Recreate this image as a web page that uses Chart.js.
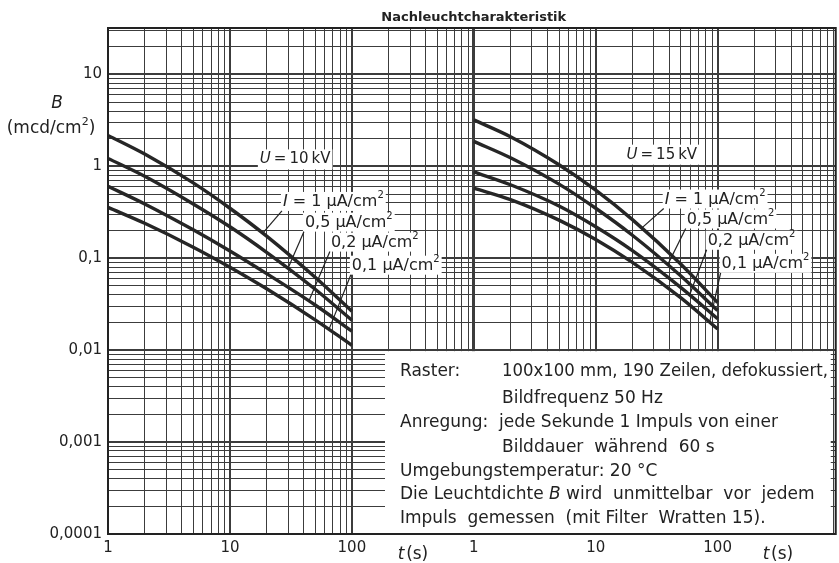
<!DOCTYPE html>
<html>
<head>
<meta charset="utf-8">
<script src="https://cdn.jsdelivr.net/npm/chart.js@4.4.1/dist/chart.umd.min.js"></script>
<style>
  html, body { margin: 0; padding: 0; background: #fff; }
  #wrap { width: 839px; height: 563px; }
</style>
</head>
<body>
<div id="wrap"><canvas id="chart" width="839" height="563"></canvas></div>
<script>
// Zeitpunkte t (s), gleiche Stützstellen für beide Teilbilder
const tSeconds = [1, 2, 5, 10, 20, 50, 100];

// Leuchtdichte B (mcd/cm²) bei U = 10 kV
const b10_1uA  = [2.17, 1.36, 0.66, 0.35, 0.174, 0.062, 0.0265];
const b10_05uA = [1.22, 0.78, 0.39, 0.22, 0.116, 0.046, 0.0212];
const b10_02uA = [0.606, 0.39, 0.204, 0.12, 0.068, 0.031, 0.0161];
const b10_01uA = [0.358, 0.24, 0.132, 0.08, 0.0466, 0.0214, 0.0113];

// Leuchtdichte B (mcd/cm²) bei U = 15 kV
const b15_1uA  = [3.2, 2.1, 1.04, 0.55, 0.263, 0.086, 0.033];
const b15_05uA = [1.87, 1.24, 0.64, 0.35, 0.178, 0.064, 0.027];
const b15_02uA = [0.87, 0.63, 0.37, 0.22, 0.121, 0.048, 0.022];
const b15_01uA = [0.58, 0.435, 0.26, 0.16, 0.09, 0.037, 0.017];

const currentLabels = ['1', '0,5', '0,2', '0,1'];
const xTickLabels = ['1', '10', '100'];
const yTickLabels = ['0,0001', '0,001', '0,01', '0,1', '1', '10'];

// rechtes Teilbild beginnt dort, wo das linke bei t = 1000 s endet
const PANEL_SHIFT = 1000;

const FONT = '"DejaVu Sans", sans-serif';
const INK = '#222';

function series(values, shift) {
    return tSeconds.map((t, i) => ({ x: t * shift, y: values[i] }));
}

function logTicks(min, max) {
    const out = [];
    for (let e = Math.floor(Math.log10(min)); e <= Math.ceil(Math.log10(max)); e++) {
        for (let m = 1; m <= 9; m++) {
            const v = Number((m * Math.pow(10, e)).toPrecision(6));
            if (v >= min * 0.9999 && v <= max * 1.0001) out.push({ value: v });
        }
    }
    return out;
}

function isDecade(v) {
    const lg = Math.log10(v);
    return Math.abs(lg - Math.round(lg)) < 1e-6;
}

// Kurvenwert an beliebigem t (log-log interpoliert), für Hinweislinien
function valueAt(values, t) {
    const lt = Math.log10(t);
    for (let i = 0; i < tSeconds.length - 1; i++) {
        const a = Math.log10(tSeconds[i]), b = Math.log10(tSeconds[i + 1]);
        if (lt >= a && lt <= b) {
            const f = (lt - a) / (b - a);
            return Math.pow(10, Math.log10(values[i]) + f * (Math.log10(values[i + 1]) - Math.log10(values[i])));
        }
    }
    return values[values.length - 1];
}

function setFont(ctx, p, size) {
    const s = p.sup ? Math.round(size * 0.65) : size;
    ctx.font = (p.bold ? 'bold ' : '') + (p.italic ? 'italic ' : '') + s + 'px ' + FONT;
}

function partWidth(ctx, p) {
    const w = ctx.measureText(p.text).width;
    return p.maxWidth ? Math.min(w, p.maxWidth) : w;
}

function measureRich(ctx, parts, size) {
    let w = 0;
    parts.forEach(p => { setFont(ctx, p, size); w += partWidth(ctx, p); });
    return w;
}

function drawRich(ctx, parts, x, y, size) {
    let cx = x;
    ctx.textAlign = 'left';
    ctx.textBaseline = 'middle';
    parts.forEach(p => {
        setFont(ctx, p, size);
        const dy = p.sup ? -size * 0.38 : 0;
        if (p.maxWidth) ctx.fillText(p.text, cx, y + dy, p.maxWidth);
        else ctx.fillText(p.text, cx, y + dy);
        cx += partWidth(ctx, p);
    });
    return cx - x;
}

function currentParts(i) {
    const parts = [];
    if (i === 0) {
        parts.push({ text: 'I', italic: true });
        parts.push({ text: ' = ' });
    }
    parts.push({ text: currentLabels[i] + ' µA/cm' });
    parts.push({ text: '2', sup: true });
    return parts;
}

// Beschriftungen der Kurven: Lage (t, B) der linken Textkante und Zielpunkt der Hinweislinie
const leftPanel = {
    curves: [b10_1uA, b10_05uA, b10_02uA, b10_01uA],
    labelT: [27.2, 41.2, 67.3, 100],
    labelB: [0.41, 0.244, 0.148, 0.083],
    leaderT: [18.6, 29.9, 44.4, 64.9],
    shift: 1
};
const rightPanel = {
    curves: [b15_1uA, b15_05uA, b15_02uA, b15_01uA],
    labelT: [36.8, 55.7, 82.8, 107.8],
    labelB: [0.435, 0.264, 0.155, 0.087],
    leaderT: [23.8, 38.9, 58.9, 86],
    shift: PANEL_SHIFT
};

const caption = [
    { dx: 15, dy: 20, parts: [{ text: 'Raster:' }] },
    { dx: 117, dy: 20, parts: [{ text: '100x100 mm, 190 Zeilen, defokussiert,', maxWidth: 326 }] },
    { dx: 117, dy: 47, parts: [{ text: 'Bildfrequenz 50 Hz' }] },
    { dx: 15, dy: 71, parts: [{ text: 'Anregung:' }] },
    { dx: 114, dy: 71, parts: [{ text: 'jede Sekunde 1 Impuls von einer' }] },
    { dx: 117, dy: 96, parts: [{ text: 'Bilddauer  während  60 s' }] },
    { dx: 15, dy: 120, parts: [{ text: 'Umgebungstemperatur: 20 °C' }] },
    { dx: 15, dy: 143, parts: [{ text: 'Die Leuchtdichte ' }, { text: 'B', italic: true }, { text: ' wird  unmittelbar  vor  jedem' }] },
    { dx: 15, dy: 167, parts: [{ text: 'Impuls  gemessen  (mit Filter  Wratten 15).' }] }
];

const annotations = {
    id: 'annotations',
    afterDatasetsDraw(chart) {
        const ctx = chart.ctx;
        const xs = chart.scales.x, ys = chart.scales.y;
        const area = chart.chartArea;
        ctx.save();
        ctx.fillStyle = INK;
        ctx.strokeStyle = INK;

        // Kurvenbeschriftungen mit Hinweislinien
        [leftPanel, rightPanel].forEach(panel => {
            panel.curves.forEach((values, i) => {
                const parts = currentParts(i);
                const lx = xs.getPixelForValue(panel.labelT[i] * panel.shift);
                const ly = ys.getPixelForValue(panel.labelB[i]);
                const w = measureRich(ctx, parts, 16);
                ctx.fillStyle = '#fff';
                ctx.fillRect(lx - 2, ly - 10, w + 4, 19);
                ctx.fillStyle = INK;
                drawRich(ctx, parts, lx, ly, 16);

                const ex = xs.getPixelForValue(panel.leaderT[i] * panel.shift);
                const ey = ys.getPixelForValue(valueAt(values, panel.leaderT[i]));
                ctx.lineWidth = 1.2;
                ctx.beginPath();
                ctx.moveTo(lx - 1, ly + 9);
                ctx.lineTo(ex, ey);
                ctx.stroke();
            });
        });

        // Spannungsangaben
        const uParts = kv => [{ text: 'U', italic: true }, { text: '\u2009=\u2009' + kv + '\u2009kV' }];
        [[1, 10, 17.6, 1.19], [PANEL_SHIFT, 15, 17.9, 1.34]].forEach(([shift, kv, t, b]) => {
            const parts = uParts(kv);
            const x = xs.getPixelForValue(t * shift);
            const y = ys.getPixelForValue(b);
            const w = measureRich(ctx, parts, 15);
            ctx.fillStyle = '#fff';
            ctx.fillRect(x - 2, y - 10, w + 4, 20);
            ctx.fillStyle = INK;
            drawRich(ctx, parts, x, y, 15);
        });

        // Kasten mit den Messbedingungen
        const box = {
            left: area.left + 277,
            right: area.right - 5,
            top: ys.getPixelForValue(0.01) + 1,
            bottom: area.bottom - 1
        };
        ctx.fillStyle = '#fff';
        ctx.fillRect(box.left, box.top, box.right - box.left, box.bottom - box.top);
        ctx.fillStyle = INK;
        caption.forEach(line => drawRich(ctx, line.parts, box.left + line.dx, box.top + line.dy, 17));

        // Rahmen
        ctx.lineWidth = 2;
        ctx.strokeStyle = '#222';
        ctx.strokeRect(area.left, area.top, area.right - area.left, area.bottom - area.top);
        ctx.restore();
    },
    afterDraw(chart) {
        const ctx = chart.ctx;
        const xs = chart.scales.x;
        const area = chart.chartArea;
        ctx.save();
        ctx.fillStyle = INK;

        // Titel
        ctx.font = 'bold 13px ' + FONT;
        ctx.textAlign = 'center';
        ctx.textBaseline = 'middle';
        ctx.fillText('Nachleuchtcharakteristik', xs.getPixelForValue(PANEL_SHIFT), area.top - 10);

        // Achsentitel y
        ctx.font = 'italic 17px ' + FONT;
        ctx.fillText('B', 57, 104);
        const yt = [{ text: '(mcd/cm' }, { text: '2', sup: true }, { text: ')' }];
        const w = measureRich(ctx, yt, 17);
        drawRich(ctx, yt, 51 - w / 2, 129, 17);

        // Achsentitel x (zweimal)
        [238, 234000].forEach(v => {
            const x = xs.getPixelForValue(v);
            drawRich(ctx, [{ text: 't', italic: true }, { text: '\u200a(s)' }], x, area.bottom + 21, 17);
        });
        ctx.restore();
    }
};

const gridWidth = ctx => {
    const v = ctx.tick && ctx.tick.value;
    if (!v) return 1;
    if (Math.abs(v - PANEL_SHIFT) < 1e-6) return 3;
    return isDecade(v) ? 2 : 1;
};

const datasets = [
    ...leftPanel.curves.map(v => series(v, 1)),
    ...rightPanel.curves.map(v => series(v, PANEL_SHIFT))
].map(data => ({
    data: data,
    borderColor: '#262626',
    borderWidth: 3.4,
    pointRadius: 0,
    fill: false,
    cubicInterpolationMode: 'monotone'
}));

new Chart(document.getElementById('chart'), {
    type: 'line',
    data: { datasets: datasets },
    options: {
        responsive: false,
        animation: false,
        devicePixelRatio: 1,
        layout: { padding: { top: 28, right: 3, left: 0, bottom: 0 } },
        plugins: { legend: { display: false }, tooltip: { enabled: false } },
        scales: {
            x: {
                type: 'logarithmic',
                min: 1,
                max: 930000,
                afterBuildTicks: scale => { scale.ticks = logTicks(scale.min, scale.max); },
                afterFit: scale => { scale.height = 29; },
                grid: { color: '#3c3c3c', lineWidth: gridWidth, drawTicks: false },
                border: { display: false },
                ticks: {
                    autoSkip: false,
                    maxRotation: 0,
                    padding: 5,
                    color: INK,
                    font: { family: 'DejaVu Sans', size: 15 },
                    callback: value => isDecade(value) ? xTickLabels[Math.round(Math.log10(value)) % 3] : ''
                }
            },
            y: {
                type: 'logarithmic',
                min: 0.0001,
                max: 32,
                afterBuildTicks: scale => { scale.ticks = logTicks(scale.min, scale.max); },
                afterFit: scale => { scale.width = 108; },
                grid: { color: '#3c3c3c', lineWidth: gridWidth, drawTicks: false },
                border: { display: false },
                ticks: {
                    autoSkip: false,
                    padding: 6,
                    color: INK,
                    font: { family: 'DejaVu Sans', size: 15 },
                    callback: value => isDecade(value) ? yTickLabels[Math.round(Math.log10(value)) + 4] : ''
                }
            }
        }
    },
    plugins: [annotations]
});
</script>
</body>
</html>
